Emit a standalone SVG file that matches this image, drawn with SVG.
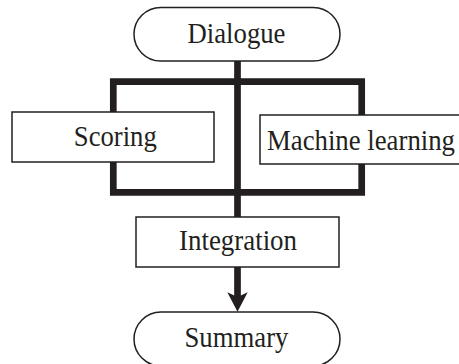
<svg xmlns="http://www.w3.org/2000/svg" width="459" height="364" viewBox="0 0 459 364">
<style>
.box{fill:#fff;stroke:#231f20;stroke-width:1.5}
.lbl{font-family:"Liberation Serif","Times New Roman",serif;font-size:29px;fill:#231f20;text-anchor:middle}
.wire{fill:none;stroke:#231f20;stroke-width:6.7;stroke-linecap:butt;stroke-linejoin:miter}
</style>
<g id="connectors">
<path class="wire" d="M237.5,61 V217"/>
<path class="wire" d="M113.3,112 V81.7 H361.7 V115"/>
<path class="wire" d="M113.3,162 V192.3 H361.7 V164"/>
<path class="wire" d="M237.5,267 V301"/>
<path d="M227.3,292.3 L237.5,297 L247.7,292.3 L237.5,311.7 Z" fill="#231f20"/>
</g>
<g id="dialogue">
<rect class="box" x="134" y="7.5" width="206" height="53.5" rx="26.75"/>
<text class="lbl" x="236.5" y="42.5" textLength="98" lengthAdjust="spacingAndGlyphs">Dialogue</text>
</g>
<g id="scoring">
<rect class="box" x="12" y="112" width="202" height="50"/>
<text class="lbl" x="115.3" y="145.5" textLength="83" lengthAdjust="spacingAndGlyphs">Scoring</text>
</g>
<g id="machine-learning">
<rect class="box" x="260" y="115" width="202" height="49"/>
<text class="lbl" x="361" y="150" textLength="188" lengthAdjust="spacingAndGlyphs">Machine learning</text>
</g>
<g id="integration">
<rect class="box" x="136" y="217" width="203" height="50"/>
<text class="lbl" x="238" y="250.3" textLength="118" lengthAdjust="spacingAndGlyphs">Integration</text>
</g>
<g id="summary">
<rect class="box" x="134" y="312" width="206" height="54" rx="27"/>
<text class="lbl" x="236.5" y="347" textLength="104" lengthAdjust="spacingAndGlyphs">Summary</text>
</g>
</svg>
